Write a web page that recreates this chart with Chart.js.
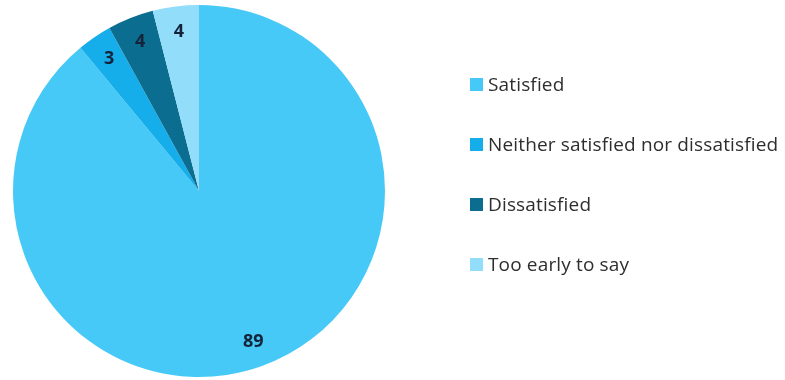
<!DOCTYPE html>
<html>
<head>
<meta charset="utf-8">
<script src="https://cdn.jsdelivr.net/npm/chart.js@4.4.1/dist/chart.umd.min.js"></script>
<style>
  html, body { margin: 0; padding: 0; background: #fff; }
  #wrap { position: relative; width: 785px; height: 380px; }
  #legend { position: absolute; left: 470px; top: 69px; font-family: "Open Sans", sans-serif; font-size: 19px; letter-spacing: 0.15px; color: #2e2e2e; }
  #legend .item { display: flex; align-items: center; height: 30px; margin-bottom: 30px; white-space: nowrap; }
  #legend .box { width: 13px; height: 13px; margin-right: 5px; flex: none; }
</style>
</head>
<body>
<div id="wrap">
  <canvas id="chart_satisfaction" width="785" height="380"></canvas>
  <div id="legend"></div>
</div>
<script>
var categories = ['Satisfied', 'Neither satisfied nor dissatisfied', 'Dissatisfied', 'Too early to say'];
var shares = [89, 3, 4, 4];
var sliceColors = ['#47c9f7', '#15adea', '#0b6d8f', '#92ddf9'];

// numbers inside the slices, placed from the arc geometry
var sliceLabels = {
    id: 'sliceLabels',
    afterDatasetsDraw: (chart) => {
        const ctx = chart.ctx;
        const meta = chart.getDatasetMeta(0);
        ctx.save();
        ctx.font = 'bold 18px "Open Sans", sans-serif';
        ctx.fillStyle = '#14233a';
        ctx.textAlign = 'center';
        ctx.textBaseline = 'middle';
        meta.data.forEach((arc, i) => {
            const p = arc.getProps(['x', 'y', 'startAngle', 'endAngle', 'outerRadius'], true);
            const mid = (p.startAngle + p.endAngle) / 2;
            const r = p.outerRadius * 0.86;
            ctx.fillText(String(shares[i]), p.x + Math.cos(mid) * r, p.y + Math.sin(mid) * r);
        });
        ctx.restore();
    }
};

var chart_satisfaction = new Chart(document.getElementById('chart_satisfaction'), {
    type: 'pie',
    data: {
        labels: categories,
        datasets: [{
            data: shares,
            backgroundColor: sliceColors,
            borderWidth: 0
        }]
    },
    options: {
        animation: false,
        responsive: false,
        layout: {
            padding: { left: 12, right: 399, top: 5, bottom: 3 }
        },
        plugins: {
            legend: { display: false },
            tooltip: { enabled: false }
        }
    },
    plugins: [sliceLabels]
});

var legendEl = document.getElementById('legend');
categories.forEach((name, i) => {
    const item = document.createElement('div');
    item.className = 'item';
    const box = document.createElement('span');
    box.className = 'box';
    box.style.background = sliceColors[i];
    const txt = document.createElement('span');
    txt.textContent = name;
    item.appendChild(box);
    item.appendChild(txt);
    legendEl.appendChild(item);
});
</script>
</body>
</html>
